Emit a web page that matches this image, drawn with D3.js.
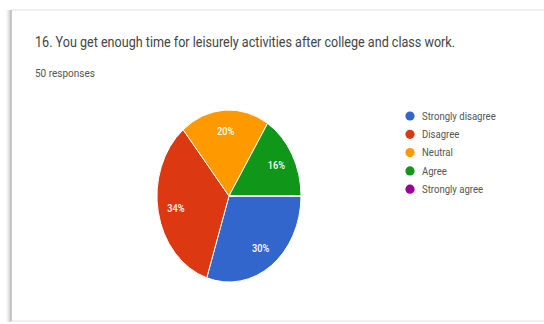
<!DOCTYPE html>
<html>
<head>
<meta charset="utf-8">
<script src="https://cdn.jsdelivr.net/npm/d3@7"></script>
<style>
  html, body { margin: 0; padding: 0; background: #fff; }
  svg { display: block; }
</style>
</head>
<body>
<svg id="chart" width="544" height="324"></svg>
<script>
// Survey answers (50 responses)
const categories = ["Strongly disagree", "Disagree", "Neutral", "Agree", "Strongly agree"];
const counts = [15, 17, 10, 8, 0];
const colors = ["#3366cc", "#dc3912", "#ff9900", "#109618", "#990099"];
const titleText = "16. You get enough time for leisurely activities after college and class work.";
const subtitleText = "50 responses";

const svg = d3.select("#chart");
const font = "Roboto, 'Noto Sans', sans-serif";

// Narrow a text element horizontally by a factor
function squeeze(sel, k) {
  sel.each(function () {
    const w = this.getComputedTextLength();
    d3.select(this).attr("textLength", w * k).attr("lengthAdjust", "spacingAndGlyphs");
  });
}

// Card with soft shadow on the left edge
const defs = svg.append("defs");
const grad = defs.append("linearGradient").attr("id", "shadowL").attr("x1", 0).attr("x2", 1);
grad.append("stop").attr("offset", 0).attr("stop-color", "#fff");
grad.append("stop").attr("offset", 1).attr("stop-color", "#c8c8c8");
svg.append("rect").attr("x", 6).attr("y", 10).attr("width", 5).attr("height", 312).attr("fill", "url(#shadowL)");
svg.append("rect").attr("x", 11).attr("y", 10).attr("width", 540).attr("height", 311)
  .attr("fill", "#fff").attr("stroke", "#e2e2e2").attr("stroke-width", 1);
svg.append("line").attr("x1", 11).attr("x2", 11).attr("y1", 10).attr("y2", 321)
  .attr("stroke", "#bdbdbd").attr("stroke-width", 1.5);

// Header
svg.append("text").attr("x", 35).attr("y", 47)
  .attr("font-family", font).attr("font-size", 14.6).attr("fill", "#444")
  .text(titleText)
  .call(squeeze, 0.862);
svg.append("text").attr("x", 35).attr("y", 77)
  .attr("font-family", font).attr("font-size", 10).attr("fill", "#555")
  .text(subtitleText);

// Pie (drawn as an ellipse: unit radius scaled per axis)
const cx = 229, cy = 196, rx = 72, ry = 86;
const total = d3.sum(counts);
const pie = d3.pie().sort(null).value(d => d)
  .startAngle(Math.PI / 2).endAngle(Math.PI / 2 + 2 * Math.PI);
const arcs = pie(counts);
const arc = d3.arc().innerRadius(0).outerRadius(1);

const g = svg.append("g").attr("transform", `translate(${cx},${cy}) scale(${rx},${ry})`);
g.selectAll("path").data(arcs).enter().append("path")
  .attr("d", arc)
  .attr("fill", (d, i) => colors[i])
  .attr("stroke", "#fff").attr("stroke-width", 1)
  .attr("vector-effect", "non-scaling-stroke");

// Percentage labels inside slices
const labelArc = d3.arc().innerRadius(0.75).outerRadius(0.75);
svg.append("g").selectAll("text").data(arcs.filter(d => d.value > 0)).enter().append("text")
  .attr("x", d => cx + labelArc.centroid(d)[0] * rx)
  .attr("y", d => cy + labelArc.centroid(d)[1] * ry)
  .attr("dy", "0.35em")
  .attr("text-anchor", "middle")
  .attr("font-family", font).attr("font-size", 10.5).attr("font-weight", 500)
  .attr("fill", "#fff")
  .text(d => Math.round(d.value / total * 100) + "%")
  .call(squeeze, 0.88);

// Legend
const legend = svg.append("g").attr("transform", "translate(410,116)");
const rows = legend.selectAll("g").data(categories).enter().append("g")
  .attr("transform", (d, i) => `translate(0,${i * 18.3})`);
rows.append("circle").attr("r", 4.6).attr("fill", (d, i) => colors[i]);
rows.append("text").attr("x", 12).attr("dy", "0.35em")
  .attr("font-family", font).attr("font-size", 10.5).attr("fill", "#555")
  .text(d => d)
  .call(squeeze, 0.91);
</script>
</body>
</html>
